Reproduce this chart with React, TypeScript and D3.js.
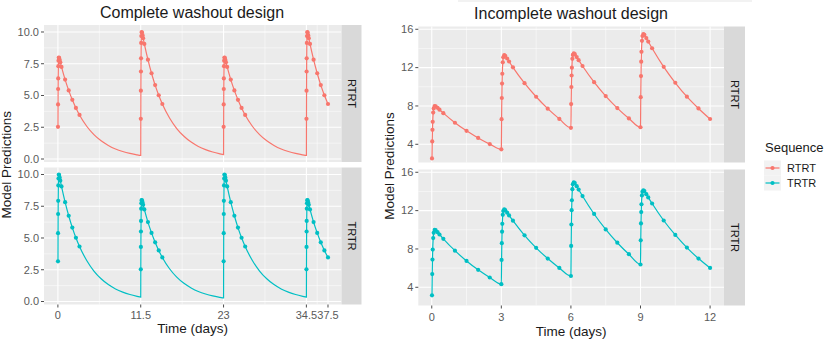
import React from "react";
import * as d3 from "d3";

// ---- Data ----
const sequences = ["RTRT", "TRTR"];
const sequenceColors = ["#F8766D", "#00BFC4"];

// sampling times after each dose (days)
const sampleOffsets = [0.0104, 0.0208, 0.0312, 0.0417, 0.0625, 0.0833, 0.125, 0.1667, 0.25, 0.333, 0.5, 1, 1.5, 2, 2.5, 3];
// extra prediction times (line only) for the complete washout periods
const tailOffsets = [4, 5, 6, 7, 8, 9, 10, 11, 11.5];

// Complete washout design
const completeStarts = [0, 11.5, 23, 34.5];
const completeProfileR = [2.53, 4.3, 5.51, 6.34, 7.31, 7.74, 7.99, 7.97, 7.8, 7.61, 7.25, 6.25, 5.4, 4.66, 4.02, 3.47];
const completeProfileT = [3.16, 5.38, 6.89, 7.93, 9.14, 9.68, 9.99, 9.96, 9.75, 9.51, 9.06, 7.82, 6.75, 5.82, 5.02, 4.33];
const completeTailR = [2.58, 1.92, 1.43, 1.07, 0.79, 0.59, 0.44, 0.33, 0.28];
const completeTailT = [3.23, 2.4, 1.79, 1.33, 0.99, 0.74, 0.55, 0.41, 0.35];

// Incomplete washout design
const incompleteStarts = [0, 3, 6, 9];
const incRTRT1 = [2.53, 4.3, 5.51, 6.34, 7.31, 7.74, 7.99, 7.97, 7.8, 7.61, 7.25, 6.25, 5.4, 4.66, 4.02, 3.47];
const incRTRT2 = [6.62, 8.83, 10.33, 11.36, 12.55, 13.07, 13.3, 13.24, 12.95, 12.64, 12.03, 10.38, 8.96, 7.72, 6.65, 5.72];
const incRTRT3 = [8.2, 9.98, 11.18, 11.99, 12.92, 13.32, 13.48, 13.4, 13.1, 12.78, 12.17, 10.48, 9.03, 7.78, 6.7, 5.78];
const incRTRT4 = [8.92, 11.12, 12.62, 13.65, 14.8, 15.3, 15.5, 15.42, 15.08, 14.72, 14.02, 12.08, 10.42, 8.97, 7.74, 6.64];
const incTRTR1 = [3.16, 5.38, 6.89, 7.93, 9.14, 9.68, 9.99, 9.96, 9.75, 9.51, 9.06, 7.82, 6.75, 5.82, 5.02, 4.33];
const incTRTR2 = [6.85, 8.6, 9.8, 10.62, 11.56, 11.96, 12.12, 12.05, 11.78, 11.5, 10.95, 9.42, 8.12, 7.0, 6.02, 5.18];
const incTRTR3 = [8.32, 10.55, 12.05, 13.08, 14.24, 14.75, 14.96, 14.88, 14.55, 14.2, 13.52, 11.65, 10.04, 8.65, 7.45, 6.38];
const incTRTR4 = [8.9, 10.66, 11.85, 12.66, 13.58, 13.98, 14.12, 14.04, 13.72, 13.38, 12.74, 10.97, 9.46, 8.14, 7.0, 6.02];

type Pt = { t: number; v: number };

function buildComplete(seq: string) {
  const pts: Pt[] = [];
  const line: Pt[] = [];
  seq.split("").forEach((trt, i) => {
    const start = completeStarts[i];
    const prof = trt === "R" ? completeProfileR : completeProfileT;
    const tail = trt === "R" ? completeTailR : completeTailT;
    sampleOffsets.forEach((o, j) => {
      const p = { t: start + o, v: prof[j] };
      pts.push(p);
      line.push(p);
    });
    if (i < completeStarts.length - 1) {
      tailOffsets.forEach((o, j) => line.push({ t: start + o, v: tail[j] }));
    }
  });
  return { pts, line };
}

function buildIncomplete(periods: number[][]) {
  const pts: Pt[] = [];
  periods.forEach((vals, i) => {
    sampleOffsets.forEach((o, j) => pts.push({ t: incompleteStarts[i] + o, v: vals[j] }));
  });
  return { pts, line: pts };
}

const completeData = {
  RTRT: buildComplete("RTRT"),
  TRTR: buildComplete("TRTR"),
};
const incompleteData = {
  RTRT: buildIncomplete([incRTRT1, incRTRT2, incRTRT3, incRTRT4]),
  TRTR: buildIncomplete([incTRTR1, incTRTR2, incTRTR3, incTRTR4]),
};

const FONT = "'Liberation Sans', Arial, Helvetica, sans-serif";

type PlotCfg = {
  title: string;
  titleX: number;
  titleY: number;
  x0: number;
  x1: number;
  stripX1: number;
  xDomain: [number, number];
  yDomain: [number, number];
  panels: { y0: number; y1: number }[];
  xTicks: number[];
  xMinor: number[];
  yTicks: number[];
  yMinor: number[];
  yFmt: (d: number) => string;
  xLabelY: number;
  xTitleY: number;
  yTitleX: number;
  data: Record<string, { pts: Pt[]; line: Pt[] }>;
};

function Plot({ cfg }: { cfg: PlotCfg }) {
  const x = d3.scaleLinear().domain(cfg.xDomain).range([cfg.x0, cfg.x1]);
  const bottom = cfg.panels[cfg.panels.length - 1].y1;
  const midY = (cfg.panels[0].y0 + bottom) / 2;
  const xCenter = (cfg.x0 + cfg.x1) / 2;
  return (
    <g>
      <text x={cfg.titleX} y={cfg.titleY} textAnchor="middle" fontSize={16} fill="#1a1a1a" fontFamily={FONT}>
        {cfg.title}
      </text>
      {cfg.panels.map((p, pi) => {
        const seq = sequences[pi];
        const color = sequenceColors[pi];
        const y = d3.scaleLinear().domain(cfg.yDomain).range([p.y1, p.y0]);
        const lineGen = d3
          .line<Pt>()
          .x((d) => x(d.t))
          .y((d) => y(d.v))
          .curve(d3.curveMonotoneX);
        const dd = cfg.data[seq];
        return (
          <g key={seq}>
            <rect x={cfg.x0} y={p.y0} width={cfg.x1 - cfg.x0} height={p.y1 - p.y0} fill="#EBEBEB" />
            {cfg.yMinor.map((t) => (
              <line key={"ym" + t} x1={cfg.x0} x2={cfg.x1} y1={y(t)} y2={y(t)} stroke="#fff" strokeWidth={0.5} />
            ))}
            {cfg.xMinor.map((t) => (
              <line key={"xm" + t} x1={x(t)} x2={x(t)} y1={p.y0} y2={p.y1} stroke="#fff" strokeWidth={0.5} />
            ))}
            {cfg.yTicks.map((t) => (
              <line key={"yM" + t} x1={cfg.x0} x2={cfg.x1} y1={y(t)} y2={y(t)} stroke="#fff" strokeWidth={1.1} />
            ))}
            {cfg.xTicks.map((t) => (
              <line key={"xM" + t} x1={x(t)} x2={x(t)} y1={p.y0} y2={p.y1} stroke="#fff" strokeWidth={1.1} />
            ))}
            <path d={lineGen(dd.line) || ""} fill="none" stroke={color} strokeWidth={1.2} />
            {dd.pts.map((d, i) => (
              <circle key={i} cx={x(d.t)} cy={y(d.v)} r={2.1} fill={color} />
            ))}
            {cfg.yTicks.map((t) => (
              <g key={"yt" + t}>
                <line x1={cfg.x0 - 3} x2={cfg.x0} y1={y(t)} y2={y(t)} stroke="#4D4D4D" strokeWidth={1} />
                <text x={cfg.x0 - 5} y={y(t)} dy="0.35em" textAnchor="end" fontSize={11} fill="#5a5a5a" fontFamily={FONT}>
                  {cfg.yFmt(t)}
                </text>
              </g>
            ))}
            <rect x={cfg.x1} y={p.y0} width={cfg.stripX1 - cfg.x1} height={p.y1 - p.y0} fill="#D9D9D9" />
            <text
              transform={`translate(${(cfg.x1 + cfg.stripX1) / 2},${(p.y0 + p.y1) / 2}) rotate(90)`}
              textAnchor="middle"
              dy="0.35em"
              fontSize={11}
              fill="#1A1A1A"
              fontFamily={FONT}
            >
              {seq}
            </text>
          </g>
        );
      })}
      {cfg.xTicks.map((t) => (
        <g key={"xt" + t}>
          <line x1={x(t)} x2={x(t)} y1={bottom} y2={bottom + 3} stroke="#4D4D4D" strokeWidth={1} />
          <text x={x(t)} y={cfg.xLabelY} textAnchor="middle" fontSize={11} fill="#5a5a5a" fontFamily={FONT}>
            {String(t)}
          </text>
        </g>
      ))}
      <text x={xCenter} y={cfg.xTitleY} textAnchor="middle" fontSize={13.5} fill="#1a1a1a" fontFamily={FONT}>
        Time (days)
      </text>
      <text
        transform={`translate(${cfg.yTitleX},${midY}) rotate(-90)`}
        textAnchor="middle"
        fontSize={13.5}
        fill="#1a1a1a"
        fontFamily={FONT}
      >
        Model Predictions
      </text>
    </g>
  );
}

const leftCfg: PlotCfg = {
  title: "Complete washout design",
  titleX: 192,
  titleY: 18,
  x0: 44,
  x1: 341.5,
  stripX1: 361.5,
  xDomain: [-1.93, 39.375],
  yDomain: [-0.236, 10.55],
  panels: [
    { y0: 25, y1: 162 },
    { y0: 167.5, y1: 304.5 },
  ],
  xTicks: [0, 11.5, 23, 34.5, 37.5],
  xMinor: [5.75, 17.25, 28.75, 36],
  yTicks: [0, 2.5, 5, 7.5, 10],
  yMinor: [1.25, 3.75, 6.25, 8.75],
  yFmt: (d) => d.toFixed(1),
  xLabelY: 319,
  xTitleY: 333,
  yTitleX: 11,
  data: completeData,
};

const rightCfg: PlotCfg = {
  title: "Incomplete washout design",
  titleX: 571,
  titleY: 19,
  x0: 418.3,
  x1: 724,
  stripX1: 745,
  xDomain: [-0.58, 12.6],
  yDomain: [2.1, 16.29],
  panels: [
    { y0: 26.5, y1: 162.5 },
    { y0: 169.5, y1: 305.5 },
  ],
  xTicks: [0, 3, 6, 9, 12],
  xMinor: [1.5, 4.5, 7.5, 10.5],
  yTicks: [4, 8, 12, 16],
  yMinor: [6, 10, 14],
  yFmt: (d) => String(d),
  xLabelY: 320.5,
  xTitleY: 335.5,
  yTitleX: 394,
  data: incompleteData,
};

export default function App() {
  return (
    <svg width={829} height={339} style={{ position: "absolute", left: 0, top: 0, background: "#fff" }}>
      <rect x={0} y={0} width={829} height={339} fill="#fff" />
      <line x1={458} x2={752} y1={1} y2={1} stroke="#E6E6E6" strokeWidth={1.2} />
      <Plot cfg={leftCfg} />
      <Plot cfg={rightCfg} />
      <g fontFamily={FONT}>
        <text x={765} y={152} fontSize={13} fill="#1a1a1a">
          Sequence
        </text>
        {sequences.map((s, i) => {
          const cy = 168 + i * 15;
          return (
            <g key={s}>
              <rect x={764} y={cy - 7.5} width={17} height={15} fill="#F2F2F2" />
              <line x1={765.5} x2={779.5} y1={cy} y2={cy} stroke={sequenceColors[i]} strokeWidth={1.2} />
              <circle cx={772.5} cy={cy} r={2.1} fill={sequenceColors[i]} />
              <text x={787} y={cy} dy="0.35em" fontSize={11} fill="#1a1a1a">
                {s}
              </text>
            </g>
          );
        })}
      </g>
    </svg>
  );
}
